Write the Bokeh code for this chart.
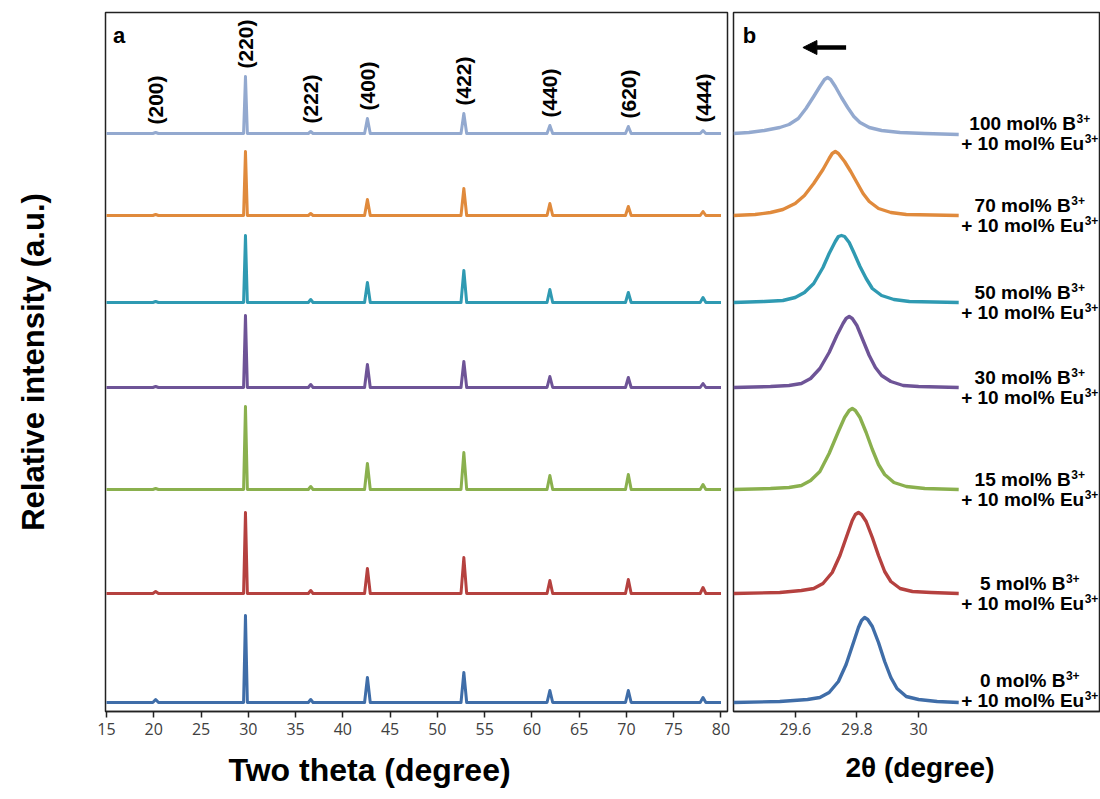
import numpy as np
from bokeh.plotting import figure
from bokeh.layouts import row
from bokeh.models import Range1d, FixedTicker, CustomJSTickFormatter, Label, Arrow, NormalHead, Title
from bokeh.core.properties import value
from bokeh.embed import file_html
from bokeh.resources import INLINE

# ---------------- data ----------------
b_content = ["100", "70", "50", "30", "15", "5", "0"]          # mol% B3+
colors = ["#93A9CF", "#E08A3C", "#2F9AB2", "#6E5497", "#8AB04E", "#B5413F", "#3F6DA8"]
offsets = [578, 496, 409, 324, 222, 118, 9]   # vertical stacking offsets

hkl_labels = ["(200)", "(220)", "(222)", "(400)", "(422)", "(440)", "(620)", "(444)"]
hkl_pos = [20.2, 29.7, 36.6, 42.6, 52.8, 61.9, 70.2, 78.1]

two_theta = [15.0, 19.9, 20.2, 20.5, 29.5, 29.7, 29.9, 36.35, 36.6, 36.85,
             42.3, 42.6, 42.9, 52.5, 52.8, 53.1, 61.6, 61.9, 62.2,
             69.9, 70.2, 70.5, 77.8, 78.1, 78.4, 80.0]
xrd_100 = [0, 0, 1, 0, 0, 57, 0, 0, 2, 0, 0, 15, 0, 0, 20, 0, 0, 8, 0, 0, 7, 0, 0, 3, 0, 0]
xrd_70  = [0, 0, 1, 0, 0, 64, 0, 0, 2, 0, 0, 16, 0, 0, 27, 0, 0, 12, 0, 0, 9, 0, 0, 4, 0, 0]
xrd_50  = [0, 0, 1, 0, 0, 67, 0, 0, 3, 0, 0, 20, 0, 0, 32, 0, 0, 13, 0, 0, 10, 0, 0, 5, 0, 0]
xrd_30  = [0, 0, 1, 0, 0, 72, 0, 0, 3, 0, 0, 23, 0, 0, 26, 0, 0, 11, 0, 0, 10, 0, 0, 4, 0, 0]
xrd_15  = [0, 0, 1, 0, 0, 83, 0, 0, 3, 0, 0, 26, 0, 0, 37, 0, 0, 14, 0, 0, 15, 0, 0, 5, 0, 0]
xrd_5   = [0, 0, 2, 0, 0, 81, 0, 0, 3, 0, 0, 25, 0, 0, 36, 0, 0, 13, 0, 0, 14, 0, 0, 6, 0, 0]
xrd_0   = [0, 0, 3, 0, 0, 87, 0, 0, 3, 0, 0, 25, 0, 0, 30, 0, 0, 12, 0, 0, 12, 0, 0, 5, 0, 0]
xrd_all = [xrd_100, xrd_70, xrd_50, xrd_30, xrd_15, xrd_5, xrd_0]

# zoomed (220) reflection
zx_100 = [29.40, 29.45, 29.50, 29.55, 29.58, 29.61, 29.635, 29.66, 29.68, 29.695, 29.705,
          29.715, 29.73, 29.75, 29.77, 29.79, 29.81, 29.84, 29.88, 29.94, 30.02, 30.13]
zy_100 = [0, 1, 3, 6, 9, 15, 25, 37, 47, 54, 56, 54, 47, 36, 26, 17, 11, 6, 3, 1, 0, -1]
zx_70 = [29.40, 29.47, 29.52, 29.56, 29.60, 29.63, 29.66, 29.69, 29.71, 29.72, 29.73,
         29.74, 29.76, 29.78, 29.80, 29.82, 29.84, 29.87, 29.91, 29.96, 30.13]
zy_70 = [0, 1, 3, 6, 12, 20, 32, 46, 57, 62, 64, 62, 54, 44, 33, 22, 14, 7, 3, 1, 0]
zx_50 = [29.40, 29.50, 29.56, 29.60, 29.63, 29.66, 29.69, 29.71, 29.73, 29.74, 29.75,
         29.76, 29.775, 29.79, 29.81, 29.83, 29.85, 29.88, 29.92, 29.97, 30.13]
zy_50 = [0, 1, 2, 5, 10, 19, 35, 49, 61, 66, 67, 66, 60, 50, 36, 24, 14, 7, 3, 1, 0]
zx_30 = [29.40, 29.52, 29.58, 29.62, 29.65, 29.68, 29.71, 29.735, 29.755, 29.765, 29.775,
         29.785, 29.80, 29.82, 29.84, 29.86, 29.88, 29.91, 29.95, 30.00, 30.13]
zy_30 = [0, 1, 2, 4, 9, 19, 35, 52, 64, 69, 71, 69, 62, 47, 32, 20, 12, 6, 2, 1, 0]
zx_15 = [29.40, 29.52, 29.58, 29.62, 29.65, 29.68, 29.71, 29.74, 29.76, 29.775, 29.785,
         29.795, 29.81, 29.83, 29.85, 29.87, 29.89, 29.92, 29.96, 30.02, 30.13]
zy_15 = [0, 1, 2, 4, 9, 18, 36, 58, 72, 79, 81, 79, 72, 57, 40, 25, 15, 7, 3, 1, 0]
zx_5 = [29.40, 29.55, 29.62, 29.66, 29.69, 29.72, 29.745, 29.77, 29.785, 29.795, 29.805,
        29.815, 29.83, 29.85, 29.87, 29.89, 29.91, 29.94, 29.98, 30.04, 30.13]
zy_5 = [0, 1, 3, 5, 10, 21, 38, 60, 73, 79, 81, 79, 72, 56, 38, 22, 12, 5, 2, 1, 0]
zx_0 = [29.40, 29.55, 29.64, 29.68, 29.71, 29.74, 29.765, 29.79, 29.805, 29.815, 29.825,
        29.835, 29.85, 29.87, 29.89, 29.91, 29.93, 29.96, 30.00, 30.06, 30.13]
zy_0 = [0, 1, 3, 5, 10, 21, 38, 61, 75, 82, 85, 83, 76, 60, 41, 25, 14, 6, 3, 1, 0]
zx_all = [zx_100, zx_70, zx_50, zx_30, zx_15, zx_5, zx_0]
zy_all = [zy_100, zy_70, zy_50, zy_30, zy_15, zy_5, zy_0]

a_ticks = list(range(15, 81, 5))
b_ticks = [29.6, 29.8, 30.0]

# ---------------- styles ----------------
FONT = "Liberation Sans"
BOLD = value(FONT)
TICKFONT = "Open Sans"
FRAME_H = 699
A_RANGE = (14.894, 80.69)
B_RANGE = (29.4, 30.5896)
B_FRAME_W = 367

# Arial/Liberation Sans bold advance widths (per 1000 em)
ADV = {' ': 278, '%': 889, '+': 584, 'B': 722, 'E': 667, 'l': 278, 'm': 889, 'o': 611, 'u': 611}
for d in "0123456789":
    ADV[d] = 556

def text_w(s, size):
    return sum(ADV.get(ch, 600) for ch in s) / 1000.0 * size


def style_common(p):
    p.grid.visible = False
    p.outline_line_color = "#222222"
    p.outline_line_width = 1.5
    p.background_fill_color = "white"
    p.border_fill_color = "white"


def style_xaxis(ax):
    ax.minor_tick_line_color = None
    ax.major_tick_out = 6
    ax.major_tick_in = 0
    ax.major_tick_line_color = "#222222"
    ax.major_tick_line_width = 1.5
    ax.axis_line_color = "#222222"
    ax.axis_line_width = 1.5
    ax.major_label_text_font = TICKFONT
    ax.major_label_text_font_size = "16px"
    ax.major_label_text_color = "#404040"
    ax.major_label_standoff = 5


def bottom_title(text, size, offset):
    return Title(text=text, align="left", offset=offset, text_font=FONT,
                 text_font_style="bold", text_font_size=size, text_color="black",
                 standoff=24)

# ---------------- panel a ----------------
pa = figure(width=730, height=799, x_range=Range1d(*A_RANGE), y_range=Range1d(0, FRAME_H),
            output_backend="svg", toolbar_location=None,
            min_border_left=105, min_border_right=3, min_border_top=12, min_border_bottom=88)
style_common(pa)

for vals, off, c in zip(xrd_all, offsets, colors):
    pa.line(two_theta, [off + v for v in vals], line_color=c, line_width=3, line_join="round")

label_y = []
for pos in hkl_pos:
    h = max(v for x, v in zip(two_theta, xrd_100) if abs(x - pos) < 0.35)
    label_y.append(offsets[0] + h + 8)
pa.text(x=hkl_pos, y=label_y, text=hkl_labels, angle=np.pi / 2, text_align="left",
        text_baseline="middle", text_font=BOLD, text_font_style="bold",
        text_font_size="21px", text_color="black")

pa.add_layout(Label(x=15.7, y=676, text="a", text_font=FONT, text_font_style="bold",
                    text_font_size="22px", text_color="black", text_baseline="alphabetic"))

pa.xaxis.ticker = FixedTicker(ticks=a_ticks)
style_xaxis(pa.xaxis)
pa.add_layout(bottom_title("Two theta (degree)", "32px", 123), "below")

pa.yaxis.ticker = FixedTicker(ticks=[])
pa.yaxis.major_tick_out = 0
pa.yaxis.minor_tick_out = 0
pa.yaxis.axis_line_color = None
pa.yaxis.axis_label = "Relative intensity (a.u.)"
pa.yaxis.axis_label_text_font = FONT
pa.yaxis.axis_label_text_font_style = "bold"
pa.yaxis.axis_label_text_font_size = "31px"
pa.yaxis.axis_label_text_color = "black"
pa.yaxis.axis_label_standoff = 55

# ---------------- panel b ----------------
pb = figure(width=370, height=799, x_range=Range1d(*B_RANGE), y_range=Range1d(0, FRAME_H),
            output_backend="svg", toolbar_location=None,
            min_border_left=3, min_border_right=0, min_border_top=12, min_border_bottom=88)
style_common(pb)
pb.yaxis.visible = False

for xs, ys, off, c in zip(zx_all, zy_all, offsets, colors):
    pb.line(xs, [off + v for v in ys], line_color=c, line_width=3.4, line_join="round")

# two-line sample labels with real superscripts
px2d = (B_RANGE[1] - B_RANGE[0]) / B_FRAME_W
center_px = 296          # label centre, pixels from the left frame edge
MAIN, SUP = 19, 12
sup_txt = "3+"
main_x, main_y, main_t, sup_x, sup_y = [], [], [], [], []
for n, off in zip(b_content, offsets):
    mid = max(off, 21)
    for txt, yy in ((f"{n} mol% B", mid + 10), ("+ 10 mol% Eu", mid - 10)):
        w = text_w(txt, MAIN)
        ws = text_w(sup_txt, SUP)
        left = center_px - (w + ws) / 2.0
        main_x.append(B_RANGE[0] + left * px2d)
        main_y.append(yy)
        main_t.append(txt)
        sup_x.append(B_RANGE[0] + (left + w + 0.5) * px2d)
        sup_y.append(yy + 5)
pb.text(x=main_x, y=main_y, text=main_t, text_align="left", text_baseline="middle",
        text_font=BOLD, text_font_style="bold", text_font_size=f"{MAIN}px", text_color="black")
pb.text(x=sup_x, y=sup_y, text=[sup_txt] * len(sup_x), text_align="left", text_baseline="middle",
        text_font=BOLD, text_font_style="bold", text_font_size=f"{SUP}px", text_color="black")

pb.add_layout(Label(x=29.43, y=676, text="b", text_font=FONT, text_font_style="bold",
                    text_font_size="22px", text_color="black", text_baseline="alphabetic"))
pb.add_layout(Arrow(end=NormalHead(size=14, fill_color="black", line_color="black"),
                    x_start=29.765, y_start=664, x_end=29.625, y_end=664,
                    line_width=4.5, line_color="black"))

pb.xaxis.ticker = FixedTicker(ticks=b_ticks)
pb.xaxis.formatter = CustomJSTickFormatter(code="return (Math.round(tick*10)/10).toString();")
style_xaxis(pb.xaxis)
pb.add_layout(bottom_title("2θ (degree)", "28px", 112), "below")

layout = row(pa, pb, spacing=0)
open("out.html", "w").write(file_html(layout, INLINE))
